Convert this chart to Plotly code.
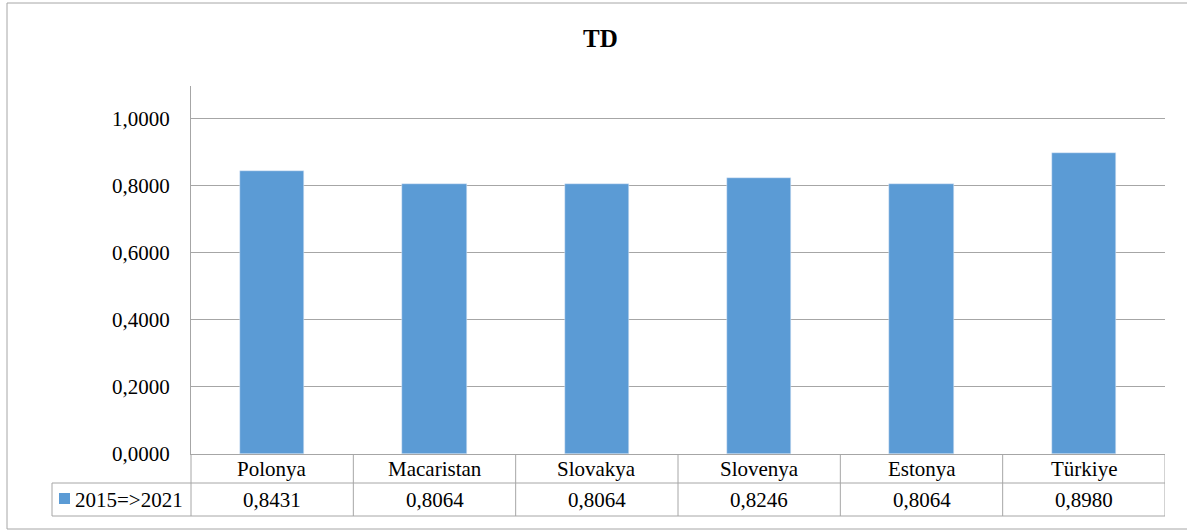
import plotly.graph_objects as go

categories = ["Polonya", "Macaristan", "Slovakya", "Slovenya", "Estonya", "Türkiye"]
values = [0.8431, 0.8064, 0.8064, 0.8246, 0.8064, 0.8980]
series_name = "2015=>2021"
title = "TD"
tick_vals = [0.0, 0.2, 0.4, 0.6, 0.8, 1.0]

W, H = 1187, 531
L, R, T, B = 191, 1165, 86, 454  # plot area in pixels
PW, PH = R - L, B - T
BAR = "#5B9BD5"
GRID = "#A6A6A6"
FONT = "Liberation Serif"
FS = 21


def px(x):
    return (x - L) / PW


def py(y):
    return (B - y) / PH


def fmt(v):
    return f"{v:.4f}".replace(".", ",")


fig = go.Figure(go.Bar(
    x=list(range(len(categories))), y=values, marker_color=BAR,
    width=0.395, name=series_name, showlegend=False,
))

shapes = []
line = dict(color=GRID, width=1)
row1, row2 = 483, 516
# outer chart border
shapes.append(dict(type="rect", xref="paper", yref="paper",
                   x0=px(7), x1=px(1190), y0=py(529), y1=py(3), line=line))
# table horizontal lines
for yy in (row1, row2):
    shapes.append(dict(type="line", xref="paper", yref="paper",
                       x0=px(52), x1=1, y0=py(yy), y1=py(yy), line=line))
# left axis continuation into table
shapes.append(dict(type="line", xref="paper", yref="paper",
                   x0=0, x1=0, y0=0, y1=py(row2), line=line))
shapes.append(dict(type="line", xref="paper", yref="paper",
                   x0=px(52), x1=px(52), y0=py(row1), y1=py(row2), line=line))
# category column separators
for i in range(len(categories)):
    shapes.append(dict(type="line", xref="x", yref="paper",
                       x0=i + 0.5, x1=i + 0.5, y0=0, y1=py(row2), line=line))
# legend key
shapes.append(dict(type="rect", xref="paper", yref="paper",
                   x0=px(59), x1=px(70), y0=py(504), y1=py(493),
                   fillcolor=BAR, line=dict(width=0)))

txt = dict(family=FONT, size=FS, color="#000")
annotations = [dict(text=f"<b>{title}</b>", xref="paper", yref="paper",
                    x=px(600), y=py(39), xanchor="center", yanchor="middle",
                    showarrow=False, font=dict(family=FONT, size=25, color="#000"))]
for i, (c, v) in enumerate(zip(categories, values)):
    annotations.append(dict(text=c, xref="x", yref="paper", x=i, y=py(468.5),
                            xanchor="center", yanchor="middle",
                            showarrow=False, font=txt))
    annotations.append(dict(text=fmt(v), xref="x", yref="paper", x=i, y=py(500),
                            xanchor="center", yanchor="middle",
                            showarrow=False, font=txt))
annotations.append(dict(text=series_name, xref="paper", yref="paper", x=px(73), y=py(500),
                        xanchor="left", yanchor="middle", showarrow=False, font=txt))

fig.update_layout(
    width=W, height=H,
    margin=dict(l=L, r=W - R, t=T, b=H - B, pad=0),
    paper_bgcolor="white", plot_bgcolor="white",
    xaxis=dict(range=[-0.5, len(categories) - 0.5], showticklabels=False,
               showgrid=False, zeroline=False, showline=True, linecolor=GRID,
               linewidth=1, fixedrange=True),
    yaxis=dict(range=[0, 1.098], tickvals=tick_vals,
               ticktext=[fmt(t) for t in tick_vals],
               showgrid=True, gridcolor=GRID, gridwidth=1, zeroline=False,
               showline=True, linecolor=GRID, linewidth=1, ticks="",
               ticklabelstandoff=16,
               tickfont=txt, fixedrange=True),
    shapes=shapes, annotations=annotations, bargap=0,
)

fig.write_html("out.html", config={"displayModeBar": False})
